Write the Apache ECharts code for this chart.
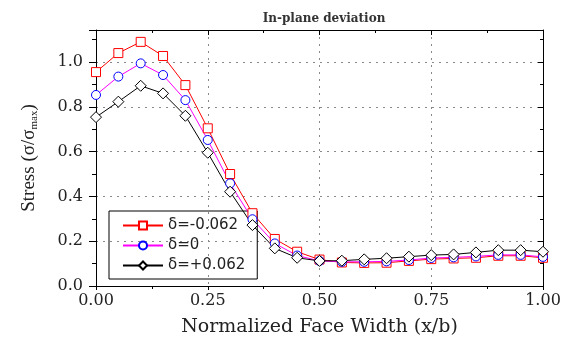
<!DOCTYPE html>
<html>
<head>
<meta charset="utf-8">
<script src="https://cdn.jsdelivr.net/npm/echarts@6/dist/echarts.min.js"></script>
<style>
  html, body { margin: 0; padding: 0; background: #fff; }
  #chart { width: 572px; height: 345px; }
</style>
</head>
<body>
<div id="chart"></div>
<script>
// Normalized face width positions (x/b)
const xPos = [0, 0.05, 0.10, 0.15, 0.20, 0.25, 0.30, 0.35, 0.40, 0.45, 0.50,
              0.55, 0.60, 0.65, 0.70, 0.75, 0.80, 0.85, 0.90, 0.95, 1.00];

// Normalized stress for each in-plane deviation
const stressNeg = [0.955, 1.040, 1.090, 1.027, 0.897, 0.704, 0.500, 0.325, 0.210, 0.153, 0.118,
                   0.105, 0.103, 0.104, 0.112, 0.120, 0.123, 0.126, 0.135, 0.135, 0.126];
const stressZero = [0.853, 0.935, 0.994, 0.942, 0.830, 0.652, 0.458, 0.298, 0.190, 0.136, 0.112,
                    0.108, 0.108, 0.110, 0.116, 0.125, 0.128, 0.132, 0.139, 0.139, 0.130];
const stressPos = [0.754, 0.823, 0.894, 0.860, 0.760, 0.595, 0.421, 0.272, 0.168, 0.126, 0.112,
                   0.113, 0.119, 0.124, 0.131, 0.138, 0.141, 0.150, 0.160, 0.160, 0.153];

const seriesNames = ['δ=-0.062', 'δ=0', 'δ=+0.062'];

const xTicks = ['0.00', '0.25', '0.50', '0.75', '1.00'];
const yTicks = ['0.0', '0.2', '0.4', '0.6', '0.8', '1.0'];

const pairs = (ys) => xPos.map((x, i) => [x, ys[i]]);

const tickFont = { fontFamily: 'DejaVu Serif', fontSize: 16, color: '#222' };
const gridDots = { show: true, lineStyle: { color: '#888', type: [2, 5], width: 1 } };

const chart = echarts.init(document.getElementById('chart'), null, { renderer: 'canvas' });

function lineSeries(name, ys, lineColor, markColor, symbol, size) {
  return {
    name: name,
    type: 'line',
    data: pairs(ys),
    symbol: symbol,
    symbolSize: size,
    showAllSymbol: true,
    lineStyle: { color: lineColor, width: 1 },
    itemStyle: { color: '#fff', borderColor: markColor, borderWidth: 1 },
    emphasis: { disabled: true },
    animation: false,
    clip: true,
    z: 3
  };
}

chart.setOption({
  animation: false,
  backgroundColor: '#fff',
  title: {
    text: 'In-plane deviation',
    left: 319, top: 8,
    textAlign: 'center',
    textStyle: { fontFamily: 'DejaVu Serif', fontWeight: 'bold', fontSize: 12, color: '#333' }
  },
  grid: { left: 96, right: 29, top: 30, bottom: 59 },
  legend: {
    orient: 'vertical',
    left: 109, top: 211,
    padding: [7, 12, 6, 13],
    itemWidth: 40, itemHeight: 10, itemGap: 5,
    borderColor: '#000', borderWidth: 1,
    backgroundColor: 'transparent',
    textStyle: { fontFamily: 'DejaVu Sans', fontSize: 15, color: '#222', lineHeight: 14 },
    data: seriesNames,
    z: 2
  },
  xAxis: [{
    type: 'value', min: 0, max: 1, interval: 0.25,
    position: 'bottom',
    name: 'Normalized Face Width (x/b)',
    nameLocation: 'middle', nameGap: 32,
    nameTextStyle: { fontFamily: 'DejaVu Serif', fontSize: 19, color: '#222' },
    axisLine: { show: true, onZero: false, lineStyle: { color: '#000', width: 1 } },
    axisTick: { show: true, inside: false, length: 4, lineStyle: { color: '#000' } },
    minorTick: { show: true, splitNumber: 2, length: 3, lineStyle: { color: '#000' } },
    axisLabel: Object.assign({ margin: 7, formatter: (v) => xTicks[Math.round(v / 0.25)] }, tickFont),
    splitLine: gridDots
  }, {
    type: 'value', min: 0, max: 1, interval: 0.25,
    position: 'top',
    axisLine: { show: true, onZero: false, lineStyle: { color: '#000', width: 1 } },
    axisTick: { show: true, inside: true, length: 5, lineStyle: { color: '#000' } },
    minorTick: { show: true, splitNumber: 2, length: 3, lineStyle: { color: '#000' } },
    axisLabel: { show: false },
    splitLine: { show: false }
  }],
  yAxis: [{
    type: 'value', min: 0, max: 1.143, interval: 0.2,
    position: 'left',
    name: '{m|Stress (σ/σ}{s|max}{m|)}',
    nameLocation: 'middle', nameGap: 56, nameRotate: 90,
    nameTextStyle: {
      rich: {
        m: { fontFamily: 'Liberation Serif', fontSize: 19, color: '#222', lineHeight: 22 },
        s: { fontFamily: 'Liberation Serif', fontSize: 11, color: '#222', padding: [10, 0, 0, 0], lineHeight: 22 }
      }
    },
    axisLine: { show: true, onZero: false, lineStyle: { color: '#000', width: 1 } },
    axisTick: { show: true, inside: false, length: 7, lineStyle: { color: '#000' } },
    minorTick: { show: true, splitNumber: 2, length: 4, lineStyle: { color: '#000' } },
    axisLabel: Object.assign({
      margin: 13, showMaxLabel: false,
      formatter: (v) => { const k = Math.round(v / 0.2); return Math.abs(v - k * 0.2) < 1e-6 ? yTicks[k] : ''; }
    }, tickFont),
    splitLine: gridDots
  }, {
    type: 'value', min: 0, max: 1.143, interval: 0.2,
    position: 'right',
    axisLine: { show: true, onZero: false, lineStyle: { color: '#000', width: 1 } },
    axisTick: { show: true, inside: true, length: 5, lineStyle: { color: '#000' } },
    minorTick: { show: true, splitNumber: 2, length: 3, lineStyle: { color: '#000' } },
    axisLabel: { show: false },
    splitLine: { show: false }
  }],
  series: [
    lineSeries(seriesNames[0], stressNeg, '#ff0000', '#ff0000', 'rect', 9),
    lineSeries(seriesNames[1], stressZero, '#ff00ff', '#0000ff', 'circle', 9),
    lineSeries(seriesNames[2], stressPos, '#000000', '#000000', 'diamond', 11)
  ]
});
</script>
</body>
</html>
